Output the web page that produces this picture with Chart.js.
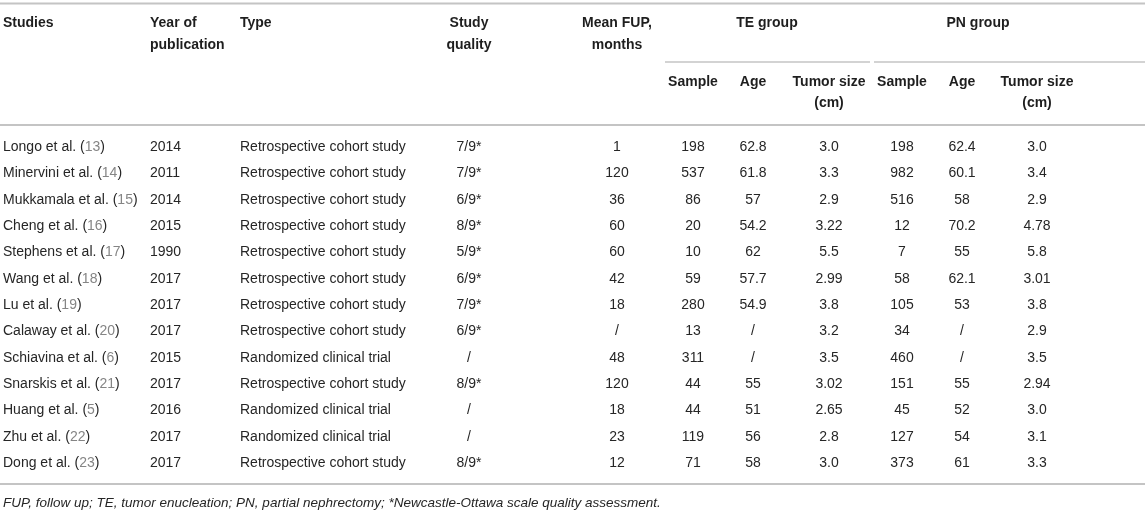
<!DOCTYPE html>
<html>
<head>
<meta charset="utf-8">
<script src="https://cdn.jsdelivr.net/npm/chart.js@4.4.0/dist/chart.umd.min.js"></script>
<style>
  body { margin: 0; background: #fff; }
  #myChart { display: block; }
</style>
</head>
<body>
<canvas id="myChart" width="1145" height="514"></canvas>
<script>
// table data
const studies = ['Longo et al.', 'Minervini et al.', 'Mukkamala et al.', 'Cheng et al.', 'Stephens et al.', 'Wang et al.', 'Lu et al.', 'Calaway et al.', 'Schiavina et al.', 'Snarskis et al.', 'Huang et al.', 'Zhu et al.', 'Dong et al.'];
const refs = ['13', '14', '15', '16', '17', '18', '19', '20', '6', '21', '5', '22', '23'];
const years = ['2014', '2011', '2014', '2015', '1990', '2017', '2017', '2017', '2015', '2017', '2016', '2017', '2017'];
const types = ['Retrospective cohort study', 'Retrospective cohort study', 'Retrospective cohort study', 'Retrospective cohort study', 'Retrospective cohort study', 'Retrospective cohort study', 'Retrospective cohort study', 'Retrospective cohort study', 'Randomized clinical trial', 'Retrospective cohort study', 'Randomized clinical trial', 'Randomized clinical trial', 'Retrospective cohort study'];
const quality = ['7/9*', '7/9*', '6/9*', '8/9*', '5/9*', '6/9*', '7/9*', '6/9*', '/', '8/9*', '/', '/', '8/9*'];
const fup = ['1', '120', '36', '60', '60', '42', '18', '/', '48', '120', '18', '23', '12'];
const teSample = ['198', '537', '86', '20', '10', '59', '280', '13', '311', '44', '44', '119', '71'];
const teAge = ['62.8', '61.8', '57', '54.2', '62', '57.7', '54.9', '/', '/', '55', '51', '56', '58'];
const teSize = ['3.0', '3.3', '2.9', '3.22', '5.5', '2.99', '3.8', '3.2', '3.5', '3.02', '2.65', '2.8', '3.0'];
const pnSample = ['198', '982', '516', '12', '7', '58', '105', '34', '460', '151', '45', '127', '373'];
const pnAge = ['62.4', '60.1', '58', '70.2', '55', '62.1', '53', '/', '/', '55', '52', '54', '61'];
const pnSize = ['3.0', '3.4', '2.9', '4.78', '5.8', '3.01', '3.8', '2.9', '3.5', '2.94', '3.0', '3.1', '3.3'];

const footnote = 'FUP, follow up; TE, tumor enucleation; PN, partial nephrectomy; *Newcastle-Ottawa scale quality assessment.';

// column layout (x position in px, alignment)
const columns = [
  { values: studies, x: 3, align: 'left', head: ['Studies'] },
  { values: years, x: 150, align: 'left', head: ['Year of', 'publication'] },
  { values: types, x: 240, align: 'left', head: ['Type'] },
  { values: quality, x: 469, align: 'center', head: ['Study', 'quality'] },
  { values: fup, x: 617, align: 'center', head: ['Mean FUP,', 'months'] },
  { values: teSample, x: 693, align: 'center', sub: ['Sample'] },
  { values: teAge, x: 753, align: 'center', sub: ['Age'] },
  { values: teSize, x: 829, align: 'center', sub: ['Tumor size', '(cm)'] },
  { values: pnSample, x: 902, align: 'center', sub: ['Sample'] },
  { values: pnAge, x: 962, align: 'center', sub: ['Age'] },
  { values: pnSize, x: 1037, align: 'center', sub: ['Tumor size', '(cm)'] }
];
const groups = [
  { label: 'TE group', x: 767, from: 665, to: 870 },
  { label: 'PN group', x: 978, from: 874, to: 1145 }
];

const FONT = '"Liberation Sans", Arial, Helvetica, sans-serif';
const textColor = '#262626';
const refColor = '#858585';
const ruleColor = '#c4c4c4';

const tablePlugin = {
  id: 'tableText',
  afterDatasetsDraw(chart) {
    const ctx = chart.ctx;
    const W = chart.width;
    ctx.save();
    ctx.textBaseline = 'middle';

    // rules
    ctx.strokeStyle = ruleColor;
    ctx.lineWidth = 2;
    [3.5, 125, 484].forEach(function (y) {
      ctx.beginPath(); ctx.moveTo(0, y); ctx.lineTo(W, y); ctx.stroke();
    });
    ctx.lineWidth = 1.5;
    groups.forEach(function (g) {
      ctx.beginPath(); ctx.moveTo(g.from, 62); ctx.lineTo(g.to, 62); ctx.stroke();
    });

    // headers
    ctx.fillStyle = '#1e1e1e';
    ctx.font = 'bold 14px ' + FONT;
    columns.forEach(function (c) {
      ctx.textAlign = c.align;
      (c.head || []).forEach(function (t, j) { ctx.fillText(t, c.x, 23 + j * 22); });
      (c.sub || []).forEach(function (t, j) { ctx.fillText(t, c.x, 82 + j * 21); });
    });
    ctx.textAlign = 'center';
    groups.forEach(function (g) { ctx.fillText(g.label, g.x, 23); });

    // body cells, placed by the chart scales
    ctx.font = '14px ' + FONT;
    chart.data.datasets.forEach(function (ds, k) {
      const meta = chart.getDatasetMeta(k);
      const col = columns[k];
      meta.data.forEach(function (el, i) {
        const txt = col.values[i];
        if (k === 0) {
          ctx.textAlign = 'left';
          let x = el.x;
          const parts = [[txt + ' (', textColor], [refs[i], refColor], [')', textColor]];
          parts.forEach(function (p) {
            ctx.fillStyle = p[1];
            ctx.fillText(p[0], x, el.y);
            x += ctx.measureText(p[0]).width;
          });
        } else {
          ctx.fillStyle = textColor;
          ctx.textAlign = col.align;
          ctx.fillText(txt, el.x, el.y);
        }
      });
    });

    // footnote
    ctx.fillStyle = textColor;
    ctx.textAlign = 'left';
    ctx.font = 'italic 13.5px ' + FONT;
    ctx.fillText(footnote, 3, 503);
    ctx.restore();
  }
};

const tableChart = new Chart(document.getElementById('myChart'), {
  type: 'scatter',
  data: {
    datasets: columns.map(function (c) {
      return {
        data: studies.map(function (s) { return { x: c.x, y: s }; }),
        pointRadius: 0,
        pointHoverRadius: 0
      };
    })
  },
  options: {
    responsive: false,
    animation: false,
    events: [],
    layout: { padding: { top: 134, bottom: 37.5, left: 0, right: 0 } },
    plugins: { legend: { display: false }, tooltip: { enabled: false } },
    scales: {
      x: { type: 'linear', min: 0, max: 1145, display: false },
      y: { type: 'category', labels: studies, offset: true, display: false }
    }
  },
  plugins: [tablePlugin]
});
</script>
</body>
</html>
